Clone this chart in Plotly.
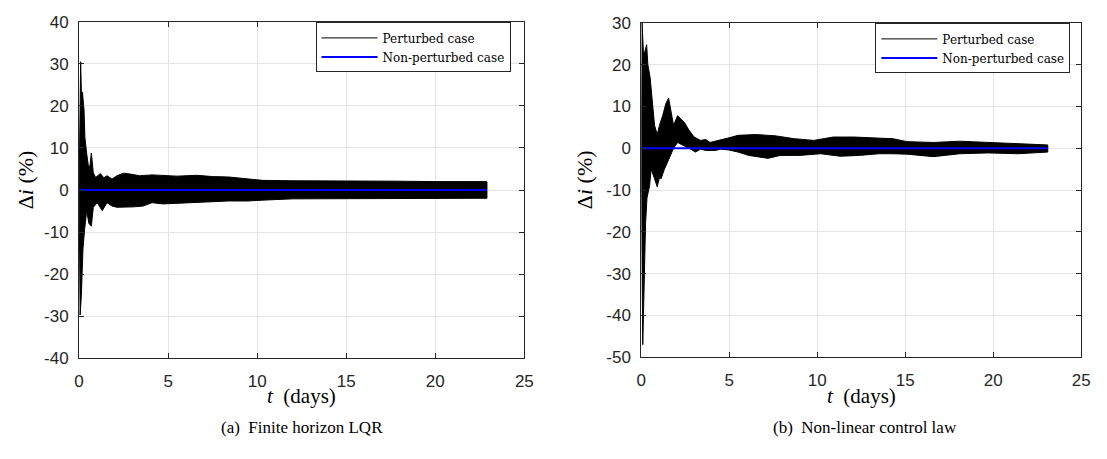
import plotly.graph_objects as go

# ---------------- Panel (a): Finite horizon LQR ----------------
# Envelope of the perturbed-case oscillation (upper / lower)
t_a_up = [0, 0.03, 0.09, 0.14, 0.19, 0.28, 0.33, 0.43, 0.55, 0.62, 0.69, 0.8, 0.93,
          1.2, 1.39, 1.57, 1.85, 2.13, 2.5, 2.87, 3.4, 4.1, 4.7, 5.5, 6.6, 7.5, 8.4,
          9.5, 10.3, 12, 14, 16, 18, 20, 22, 22.9]
a_up = [0, 12, 30.5, 22, 23.3, 19, 12.4, 8.6, 4.9, 6, 8.8, 4.1, 3.0,
        3.9, 2.9, 3.4, 2.6, 3.4, 4.0, 3.8, 3.4, 3.6, 3.5, 3.3, 3.5, 3.2, 3.1,
        2.7, 2.3, 2.2, 2.2, 2.1, 2.1, 2.0, 2.0, 2.0]
t_a_lo = [0, 0.03, 0.06, 0.13, 0.22, 0.31, 0.43, 0.55, 0.69, 0.8, 1.02, 1.3, 1.57,
          1.85, 2.13, 2.5, 3.05, 3.6, 4.1, 4.7, 5.5, 6.6, 7.5, 8.4, 9.5, 10.3, 12,
          14, 16, 18, 20, 22, 22.9]
a_lo = [0, -15, -29.7, -25, -14, -9.4, -4.9, -7.9, -8.6, -4.1, -3.0, -4.9, -3.0,
        -3.8, -4.1, -4.1, -4.0, -3.8, -3.0, -3.3, -3.2, -2.9, -2.8, -2.6, -2.6, -2.4, -2.1,
        -2.0, -2.0, -2.0, -2.0, -1.95, -1.95]
t_a_nom = [0, 22.9]
a_nom = [0, 0]

# ---------------- Panel (b): Non-linear control law ----------------
t_b_up = [0, 0.04, 0.13, 0.3, 0.37, 0.5, 0.6, 0.75, 0.9, 1.03, 1.21, 1.4, 1.55, 1.68,
          1.83, 2.06, 2.24, 2.43, 2.7, 3.0, 3.36, 3.66, 3.9, 4.22, 4.5, 4.97, 5.5, 6.5,
          7.6, 8.7, 9.8, 10.9, 12.1, 13.2, 14.3, 15.1, 16.6, 18.1, 19.7, 21.4, 23.1]
b_up = [0, 30, 22, 24.8, 20, 16.9, 12.3, 5.5, 3.3, 5.5, 7.8, 10.8, 12, 8.6,
        5.5, 7.8, 7.0, 6.3, 4.4, 2.7, 1.9, 2.1, 1.4, 1.7, 1.9, 2.5, 3.1, 3.3,
        3.0, 2.3, 1.9, 2.7, 2.7, 2.5, 2.3, 1.6, 1.4, 1.7, 1.4, 1.1, 0.8]
t_b_lo = [0, 0.04, 0.08, 0.13, 0.19, 0.24, 0.32, 0.47, 0.56, 0.75, 0.9, 1.03, 1.12,
          1.31, 1.5, 1.68, 1.83, 2.06, 2.43, 2.8, 3.08, 3.36, 3.66, 3.9, 4.22, 4.5,
          4.97, 5.5, 6.1, 7.2, 7.9, 9.0, 10.2, 11.3, 12.4, 13.5, 14.3, 15.1, 16.6,
          18.1, 19.7, 21.4, 23.1]
b_lo = [0, -30, -47, -40, -30, -18, -11.9, -8.9, -5, -7.3, -9.2, -7, -7.3,
        -5, -3.2, -1.3, 0, 1.4, 0.6, -0.2, -0.9, -0.2, -0.5, -0.5, -0.5, -0.2,
        -0.4, -0.9, -1.7, -2.4, -1.7, -1.7, -1.3, -1.9, -1.7, -1.3, -1.3, -1.4, -2.0,
        -1.3, -1.1, -1.3, -0.9]
t_b_nom = [0, 23.1]
b_nom = [0, 0]

x_ticks = [0, 5, 10, 15, 20, 25]
y_ticks_a = [-40, -30, -20, -10, 0, 10, 20, 30, 40]
y_ticks_b = [-50, -40, -30, -20, -10, 0, 10, 20, 30]
legend_names = ["Perturbed case", "Non-perturbed case"]
captions = ["(a)  Finite horizon LQR", "(b)  Non-linear control law"]

W, H = 1107, 459
AX = "#262626"
GRID = "#e6e6e6"
SERIF = "Liberation Serif"
LEGSERIF = "DejaVu Serif"
SANS = "Liberation Sans"

fig = go.Figure()


def add_panel(t_up, up, t_lo, lo, t_nom, nom, xa, ya, leg):
    px = list(t_up) + list(reversed(t_lo))
    py = list(up) + list(reversed(lo))
    fig.add_trace(go.Scatter(x=px, y=py, mode="lines", fill="toself",
                             fillcolor="black", line=dict(color="black", width=1),
                             showlegend=False, hoverinfo="skip", xaxis=xa, yaxis=ya))
    # legend proxy for the perturbed case (line swatch)
    fig.add_trace(go.Scatter(x=[None], y=[None], mode="lines", name=legend_names[0],
                             line=dict(color="black", width=1), legend=leg,
                             xaxis=xa, yaxis=ya))
    fig.add_trace(go.Scatter(x=t_nom, y=nom, mode="lines", name=legend_names[1],
                             line=dict(color="#0000ff", width=2), legend=leg,
                             xaxis=xa, yaxis=ya))


add_panel(t_a_up, a_up, t_a_lo, a_lo, t_a_nom, a_nom, "x", "y", "legend")
add_panel(t_b_up, b_up, t_b_lo, b_lo, t_b_nom, b_nom, "x2", "y2", "legend2")


def xaxis_cfg(dom):
    return dict(domain=dom, range=[0, 25], tickvals=x_ticks,
                ticktext=[str(v) for v in x_ticks],
                showgrid=True, gridcolor=GRID, gridwidth=1, zeroline=False,
                showline=True, linecolor=AX, linewidth=1, mirror="ticks",
                ticks="inside", ticklen=5, tickcolor=AX,
                tickfont=dict(family=SANS, size=17, color=AX),
                ticklabelstandoff=7)


def yaxis_cfg(dom, rng, ticks, anchor):
    return dict(domain=dom, range=rng, tickvals=ticks,
                ticktext=[str(v) for v in ticks],
                showgrid=True, gridcolor=GRID, gridwidth=1, zeroline=False,
                showline=True, linecolor=AX, linewidth=1, mirror="ticks",
                ticks="inside", ticklen=5, tickcolor=AX,
                tickfont=dict(family=SANS, size=17, color=AX),
                ticklabelstandoff=6, anchor=anchor)


xa_dom = [75 / W, 526 / W]
xb_dom = [644.5 / W, 1090 / W]
ya_dom = [1 - 364.4 / H, 1 - 13.3 / H]
yb_dom = [1 - 363.2 / H, 1 - 14.6 / H]

legend_common = dict(bgcolor="white", bordercolor=AX, borderwidth=1,
                     font=dict(family=LEGSERIF, size=12, color="black"),
                     xanchor="right", yanchor="top", itemwidth=56,
                     tracegroupgap=0)

fig.update_layout(
    width=W, height=H,
    margin=dict(l=0, r=0, t=0, b=0),
    paper_bgcolor="white", plot_bgcolor="white",
    xaxis=dict(xaxis_cfg(xa_dom), anchor="y"),
    yaxis=yaxis_cfg(ya_dom, [-40, 40], y_ticks_a, "x"),
    xaxis2=dict(xaxis_cfg(xb_dom), anchor="y2"),
    yaxis2=yaxis_cfg(yb_dom, [-50, 30], y_ticks_b, "x2"),
    legend=dict(legend_common, x=512 / W, y=1 - 14 / H),
    legend2=dict(legend_common, x=1079 / W, y=1 - 15 / H),
    showlegend=True,
)

annots = []
for cx in [(75 + 526) / 2, (644.5 + 1090) / 2]:
    annots.append(dict(text="<i>t</i>\u00a0\u00a0(days)", x=cx / W, y=1 - 404 / H,
                       xref="paper", yref="paper", showarrow=False,
                       xanchor="center", yanchor="middle",
                       font=dict(family=SERIF, size=21, color="black")))
for cx in [21, 587]:
    annots.append(dict(text="\u0394<i>i</i>\u00a0(%)", x=cx / W, y=1 - 178 / H,
                       xref="paper", yref="paper", showarrow=False, textangle=-90,
                       xanchor="center", yanchor="middle",
                       font=dict(family=SERIF, size=22, color="black")))
for cx, txt in zip([301, 871], captions):
    annots.append(dict(text=txt, x=cx / W, y=1 - 437 / H,
                       xref="paper", yref="paper", showarrow=False,
                       xanchor="center", yanchor="middle",
                       font=dict(family=SERIF, size=17, color="black")))
fig.update_layout(annotations=annots)

fig.write_html("out.html")
